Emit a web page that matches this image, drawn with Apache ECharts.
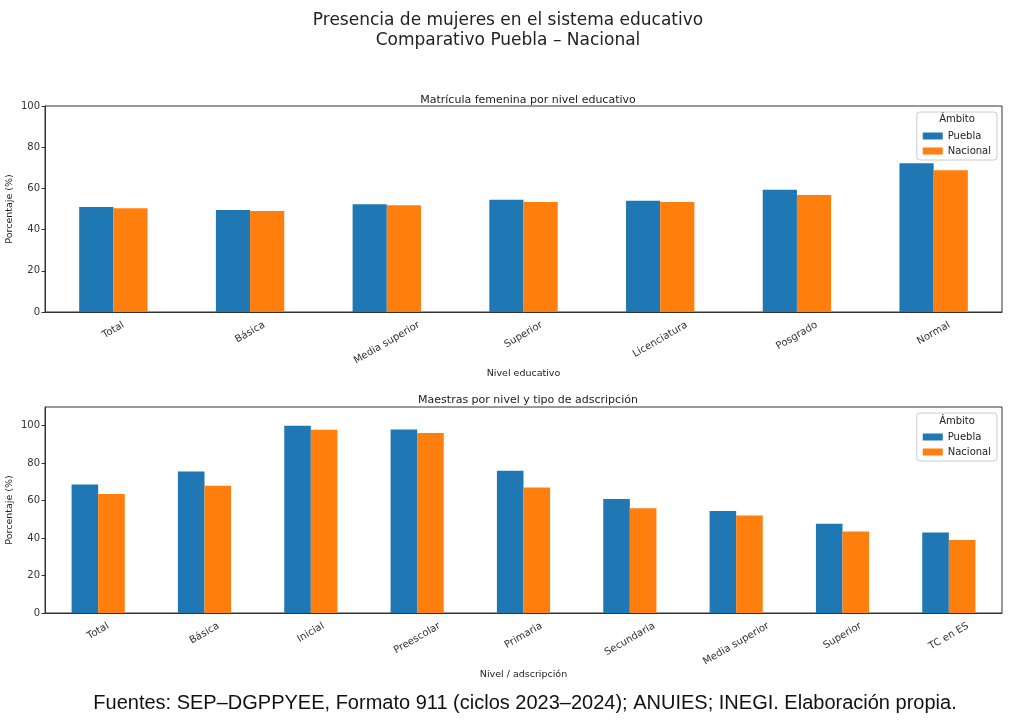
<!DOCTYPE html>
<html>
<head>
<meta charset="utf-8">
<script src="https://cdn.jsdelivr.net/npm/echarts@6/dist/echarts.min.js"></script>
<style>html,body{margin:0;padding:0;background:#fff}#c{width:1024px;height:721px}</style>
</head>
<body>
<div id="c"></div>
<script>
// ---- data ----
const cats1 = ['Total', 'Básica', 'Media superior', 'Superior', 'Licenciatura', 'Posgrado', 'Normal'];
const puebla1 = [51.0, 49.5, 52.3, 54.5, 54.0, 59.4, 72.2];
const nacional1 = [50.4, 49.0, 51.8, 53.4, 53.4, 56.8, 68.8];

const cats2 = ['Total', 'Básica', 'Inicial', 'Preescolar', 'Primaria', 'Secundaria', 'Media superior', 'Superior', 'TC en ES'];
const puebla2 = [68.6, 75.5, 100.0, 98.0, 75.9, 60.9, 54.4, 47.6, 43.0];
const nacional2 = [63.6, 67.9, 97.9, 96.1, 67.0, 56.0, 52.1, 43.5, 39.0];

const yTicks1 = [0, 20, 40, 60, 80, 100];
const yTicks2 = [0, 20, 40, 60, 80, 100];

const seriesNames = ['Puebla', 'Nacional'];
const colors = ['#1f77b4', '#ff7f0e'];

// ---- helpers ----
const FONT = 'DejaVu Sans';
const LABEL_FONT = '10px "DejaVu Sans"';
const ctx = document.createElement('canvas').getContext('2d');
ctx.font = LABEL_FONT;

// rotated category labels centred under each tick (matplotlib style), placed via the axis scale
function labelSeries(axisIdx, cats) {
  return {
    type: 'custom', xAxisIndex: axisIdx, yAxisIndex: axisIdx, silent: true, clip: false, z: 5,
    data: cats.map(function (c, i) { return [i, 0]; }),
    encode: { x: 0, y: 1 },
    renderItem: function (params, api) {
      const i = api.value(0);
      const text = cats[i];
      const pt = api.coord([i, 0]);
      const w = ctx.measureText(text).width;
      const h = 11;
      const D = 7.5 + w / 4 + 0.433 * h;
      return {
        type: 'text', x: pt[0], y: pt[1] + D, rotation: Math.PI / 6,
        style: { text: text, align: 'center', verticalAlign: 'middle', font: LABEL_FONT, fill: '#333' }
      };
    }
  };
}

const chart = echarts.init(document.getElementById('c'), null, { renderer: 'canvas' });

function xAxisCfg(idx, cats, name) {
  return {
    type: 'category', gridIndex: idx, data: cats,
    name: name, nameLocation: 'middle', nameGap: 57, nameMoveOverlap: false,
    nameTextStyle: { fontFamily: FONT, fontSize: 9.5, color: '#222' },
    axisLine: { lineStyle: { color: '#333', width: 1 } },
    axisTick: { alignWithLabel: true, interval: 0, length: 3.5, lineStyle: { color: '#333' } },
    axisLabel: { show: false, interval: 0 },
    splitLine: { show: false }
  };
}
function yAxisCfg(idx, max, ticks) {
  return {
    type: 'value', gridIndex: idx, min: 0, max: max, interval: 20,
    name: 'Porcentaje (%)', nameLocation: 'middle', nameGap: 30, nameMoveOverlap: false,
    nameTextStyle: { fontFamily: FONT, fontSize: 9.5, color: '#222' },
    axisLine: { show: true, lineStyle: { color: '#333', width: 1 } },
    axisTick: { show: true, length: 3.5, lineStyle: { color: '#333' }, customValues: ticks },
    axisLabel: { margin: 5, fontFamily: FONT, fontSize: 10, color: '#333', customValues: ticks },
    splitLine: { show: false }
  };
}
function legendCfg(top) {
  return {
    orient: 'vertical', right: 27, top: top,
    data: seriesNames.slice(),
    padding: [19, 6, 4, 6], itemGap: 5, itemWidth: 20, itemHeight: 7,
    icon: 'rect',
    backgroundColor: '#fff', borderColor: '#ccc', borderWidth: 1, borderRadius: 3,
    textStyle: { fontFamily: FONT, fontSize: 10, color: '#222' },
    selectedMode: false
  };
}

const option = {
  animation: false,
  backgroundColor: '#fff',
  title: [
    { text: 'Presencia de mujeres en el sistema educativo\nComparativo Puebla – Nacional',
      left: 503, top: 6, textAlign: 'center',
      textStyle: { fontFamily: FONT, fontSize: 17, lineHeight: 20, fontWeight: 'normal', color: '#222' } },
    { text: 'Matrícula femenina por nivel educativo', left: 523, top: 90, textAlign: 'center',
      textStyle: { fontFamily: FONT, fontSize: 11, fontWeight: 'normal', color: '#222' } },
    { text: 'Maestras por nivel y tipo de adscripción', left: 523, top: 390, textAlign: 'center',
      textStyle: { fontFamily: FONT, fontSize: 11, fontWeight: 'normal', color: '#222' } }
  ],
  graphic: [
    { type: 'text', x: 957, y: 119, z: 100, style: { text: 'Ámbito', align: 'center', verticalAlign: 'middle', font: '10px "DejaVu Sans"', fill: '#222' } },
    { type: 'text', x: 957, y: 421, z: 100, style: { text: 'Ámbito', align: 'center', verticalAlign: 'middle', font: '10px "DejaVu Sans"', fill: '#222' } },
    { type: 'text', x: 525, y: 703, style: { text: 'Fuentes: SEP–DGPPYEE, Formato 911 (ciclos 2023–2024); ANUIES; INEGI. Elaboración propia.', align: 'center', verticalAlign: 'middle', font: '20px "Liberation Sans"', fill: '#111' } }
  ],
  legend: [legendCfg(112), legendCfg(413)],
  grid: [
    { left: 45, right: 22, top: 106, height: 206, show: true, borderColor: '#333', borderWidth: 1, containLabel: false, outerBoundsMode: 'none' },
    { left: 45, right: 22, top: 407, height: 206, show: true, borderColor: '#333', borderWidth: 1, containLabel: false, outerBoundsMode: 'none' }
  ],
  xAxis: [xAxisCfg(0, cats1, 'Nivel educativo'), xAxisCfg(1, cats2, 'Nivel / adscripción')],
  yAxis: [yAxisCfg(0, 100, yTicks1), yAxisCfg(1, 110, yTicks2)],
  series: [
    { name: seriesNames[0], type: 'bar', xAxisIndex: 0, yAxisIndex: 0, data: puebla1, barWidth: '25%', barGap: '0%', itemStyle: { color: colors[0] } },
    { name: seriesNames[1], type: 'bar', xAxisIndex: 0, yAxisIndex: 0, data: nacional1, barWidth: '25%', barGap: '0%', itemStyle: { color: colors[1] } },
    { name: seriesNames[0], type: 'bar', xAxisIndex: 1, yAxisIndex: 1, data: puebla2, barWidth: '25%', barGap: '0%', itemStyle: { color: colors[0] } },
    { name: seriesNames[1], type: 'bar', xAxisIndex: 1, yAxisIndex: 1, data: nacional2, barWidth: '25%', barGap: '0%', itemStyle: { color: colors[1] } },
    labelSeries(0, cats1),
    labelSeries(1, cats2)
  ]
};
chart.setOption(option);
</script>
</body>
</html>
